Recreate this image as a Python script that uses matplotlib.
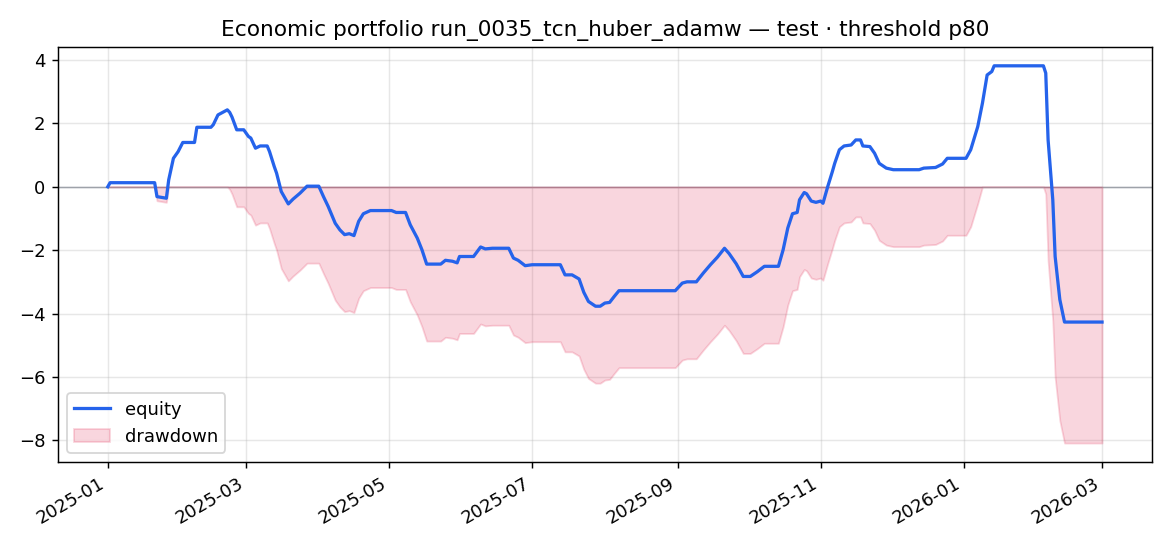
import numpy as np
import pandas as pd
import matplotlib
matplotlib.use("Agg")
import matplotlib.pyplot as plt

# equity curve keypoints (date, value)
dates = [
    "2025-01-01", "2025-01-02", "2025-01-21", "2025-01-22", "2025-01-26", "2025-01-27",
    "2025-01-29", "2025-01-31", "2025-02-02", "2025-02-07", "2025-02-08", "2025-02-14",
    "2025-02-15", "2025-02-17", "2025-02-19", "2025-02-21", "2025-02-22", "2025-02-23",
    "2025-02-25", "2025-02-28", "2025-03-02", "2025-03-03", "2025-03-05", "2025-03-07",
    "2025-03-10", "2025-03-11", "2025-03-13", "2025-03-14", "2025-03-16", "2025-03-19",
    "2025-03-21", "2025-03-24", "2025-03-27", "2025-04-01", "2025-04-03", "2025-04-05",
    "2025-04-08", "2025-04-10", "2025-04-12", "2025-04-14", "2025-04-16", "2025-04-18",
    "2025-04-20", "2025-04-23", "2025-05-02", "2025-05-04", "2025-05-08", "2025-05-10",
    "2025-05-13", "2025-05-15", "2025-05-17", "2025-05-23", "2025-05-25", "2025-05-28",
    "2025-05-30", "2025-05-31", "2025-06-06", "2025-06-09", "2025-06-11", "2025-06-14",
    "2025-06-21", "2025-06-23", "2025-06-25", "2025-06-28", "2025-07-01", "2025-07-13",
    "2025-07-15", "2025-07-18", "2025-07-21", "2025-07-23", "2025-07-25", "2025-07-28",
    "2025-07-30", "2025-08-01", "2025-08-03", "2025-08-05", "2025-08-07", "2025-08-31",
    "2025-09-03", "2025-09-05", "2025-09-09", "2025-09-12", "2025-09-15", "2025-09-18",
    "2025-09-21", "2025-09-23", "2025-09-26", "2025-09-29", "2025-10-02", "2025-10-05",
    "2025-10-08", "2025-10-14", "2025-10-16", "2025-10-18", "2025-10-20", "2025-10-22",
    "2025-10-23", "2025-10-25", "2025-10-26", "2025-10-28", "2025-10-30", "2025-11-01",
    "2025-11-02", "2025-11-04", "2025-11-06", "2025-11-07", "2025-11-09", "2025-11-11",
    "2025-11-14", "2025-11-16", "2025-11-18", "2025-11-19", "2025-11-22", "2025-11-24",
    "2025-11-26", "2025-11-29", "2025-12-02", "2025-12-13", "2025-12-15", "2025-12-20",
    "2025-12-23", "2025-12-25", "2026-01-02", "2026-01-04", "2026-01-07", "2026-01-09",
    "2026-01-11", "2026-01-13", "2026-01-14", "2026-02-04", "2026-02-05", "2026-02-06",
    "2026-02-08", "2026-02-09", "2026-02-11", "2026-02-13", "2026-03-01",
]
equity = [
    0.00, 0.13, 0.13, -0.31, -0.36, 0.22,
    0.90, 1.11, 1.40, 1.40, 1.88, 1.88,
    1.96, 2.27, 2.35, 2.43, 2.35, 2.20,
    1.80, 1.80, 1.59, 1.54, 1.22, 1.29,
    1.29, 1.11, 0.64, 0.43, -0.15, -0.54,
    -0.39, -0.20, 0.02, 0.02, -0.31, -0.62,
    -1.15, -1.36, -1.51, -1.48, -1.54, -1.09,
    -0.85, -0.75, -0.75, -0.81, -0.81, -1.20,
    -1.62, -1.99, -2.44, -2.44, -2.32, -2.35,
    -2.40, -2.20, -2.20, -1.90, -1.96, -1.94,
    -1.94, -2.25, -2.32, -2.49, -2.46, -2.46,
    -2.78, -2.78, -2.91, -3.33, -3.62, -3.77,
    -3.77, -3.67, -3.65, -3.46, -3.28, -3.28,
    -3.04, -3.00, -3.00, -2.72, -2.46, -2.22,
    -1.94, -2.11, -2.43, -2.83, -2.83, -2.68,
    -2.51, -2.51, -1.99, -1.30, -0.85, -0.81,
    -0.41, -0.18, -0.22, -0.45, -0.49, -0.45,
    -0.52, 0.00, 0.48, 0.74, 1.17, 1.29,
    1.32, 1.48, 1.48, 1.29, 1.27, 1.06,
    0.74, 0.59, 0.54, 0.54, 0.59, 0.61,
    0.72, 0.90, 0.90, 1.17, 1.90, 2.64,
    3.53, 3.64, 3.82, 3.82, 3.59, 1.48,
    -0.41, -2.20, -3.56, -4.27, -4.27,
]

title = "Economic portfolio run_0035_tcn_huber_adamw \u2014 test \u00b7 threshold p80"

x = pd.to_datetime(dates)
eq = np.array(equity)
drawdown = eq - np.maximum.accumulate(eq)

DPI = 130
fig = plt.figure(figsize=(1170 / DPI, 546 / DPI), dpi=DPI)
pos = [0.0496, 0.154, 0.9348, 0.760]
ax = fig.add_axes(pos)

ax.plot(x, eq, color="#2563eb", lw=1.8, label="equity", zorder=3)
ax.fill_between(x, drawdown, 0, color="#e11d48", alpha=0.18, label="drawdown", zorder=2)
ax.axhline(0, color="#6b7280", lw=0.8, alpha=0.7, zorder=1)
ax.grid(True, alpha=0.3)
ax.set_title(title, fontsize=12)
ax.legend(loc="lower left")
fig.autofmt_xdate()
ax.set_position(pos)

fig.savefig("out.png", dpi=DPI)
